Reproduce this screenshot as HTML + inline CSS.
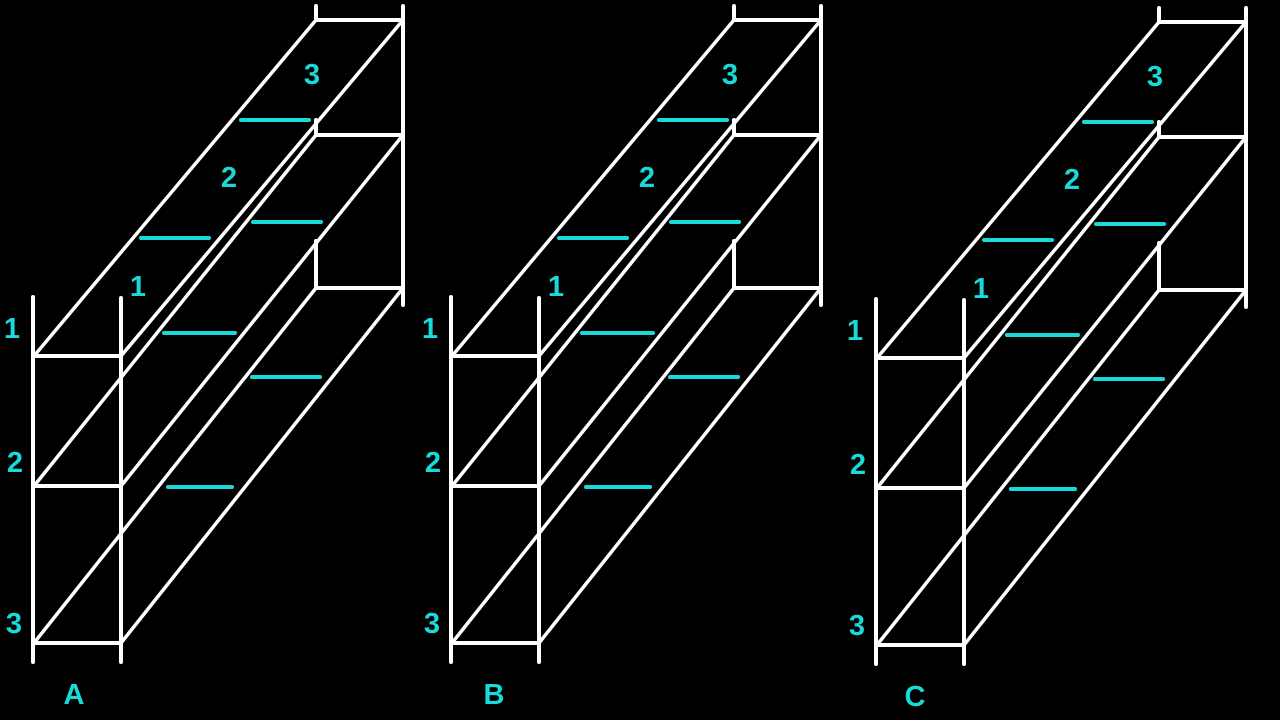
<!DOCTYPE html>
<html><head><meta charset="utf-8"><style>
html,body{margin:0;padding:0;background:#000;width:1280px;height:720px;overflow:hidden}
svg{display:block}
text{font-family:"Liberation Sans",sans-serif;font-weight:bold;font-size:29px;fill:#1ad9d9;text-anchor:middle}
</style></head><body>
<svg id="s" width="1280" height="720" viewBox="0 0 1280 720">
<rect width="1280" height="720" fill="#000"/>
</svg>
<script>
const panels = ["A","B","C"];
const offsetsX = [0,418,843];
const offsetsY = [0,0,2];
const labelShift = [0,2,-2];
const svg = document.getElementById('s');
const NS = 'http://www.w3.org/2000/svg';
function line(g,x1,y1,x2,y2,c,w,name){
  const l=document.createElementNS(NS,'line');
  l.setAttribute('x1',x1);l.setAttribute('y1',y1);l.setAttribute('x2',x2);l.setAttribute('y2',y2);
  l.setAttribute('stroke',c);l.setAttribute('stroke-width',w);l.setAttribute('stroke-linecap','round');
  
  
  g.appendChild(l);
}
function txt(g,x,y,t,name){
  const e=document.createElementNS(NS,'text');
  e.setAttribute('x',x);e.setAttribute('y',y);e.textContent=t;
  
  
  g.appendChild(e);
}
panels.forEach((p,i)=>{
  const dx=offsetsX[i], dy=offsetsY[i];
  const g=document.createElementNS(NS,'g');
  g.setAttribute('transform',`translate(${dx},${dy})`);
  
  
  svg.appendChild(g);
  const W='#fff', C='#1ad9d9';
  line(g,33,297,33,662,W,4,'front-left-post');
  line(g,121,298,121,662,W,4,'front-right-post');
  [356,486,643].forEach((y,k)=>line(g,33,y,121,y,W,4,'front-ledger-'+(k+1)));
  line(g,316,6,316,20,W,4,'back-left-post-top');
  line(g,316,120,316,135,W,4,'back-left-post-mid');
  line(g,316,241,316,288,W,4,'back-left-post-low');
  line(g,403,6,403,305,W,4,'back-right-post');
  [20,135,288].forEach((y,k)=>line(g,316,y,403,y,W,4,'back-ledger-'+(k+1)));
  line(g,34,356,316,20,W,3.5,'rail-1-left');
  line(g,121,356,403,20,W,3.5,'rail-1-right');
  line(g,34,486,316,135,W,3.5,'rail-2-left');
  line(g,121,486,403,135,W,3.5,'rail-2-right');
  line(g,34,643,316,288,W,3.5,'rail-3-left');
  line(g,121,643,403,288,W,3.5,'rail-3-right');
  line(g,241,120,309,120,C,4,'board-3a');
  line(g,141,238,209,238,C,4,'board-2a');
  line(g,253,222,321,222,C,4,'board-2b');
  line(g,164,333,235,333,C,4,'board-1a');
  line(g,252,377,320,377,C,4,'board-1b');
  line(g,168,487,232,487,C,4,'board-0');
  txt(g,312,84,'3','label-level-3');
  txt(g,229,187,'2','label-level-2');
  txt(g,138,296,'1','label-level-1');
  txt(g,12,338,'1','left-label-1');
  txt(g,15,472,'2','left-label-2');
  txt(g,14,633,'3','left-label-3');
  txt(g,74+labelShift[i],704,p,'panel-label-'+p.toLowerCase());
});
</script>
</body></html>
